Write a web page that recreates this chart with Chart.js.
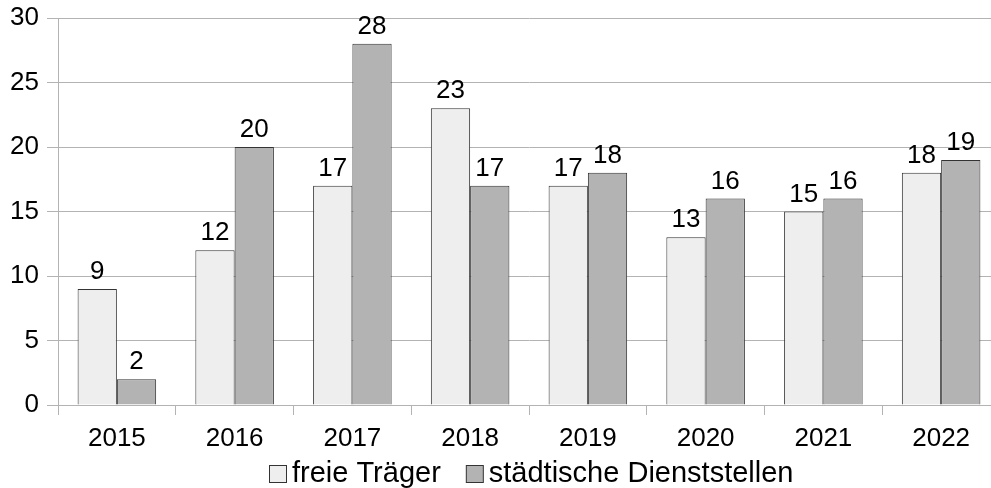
<!DOCTYPE html>
<html>
<head>
<meta charset="utf-8">
<script src="https://cdn.jsdelivr.net/npm/chart.js@4/dist/chart.umd.min.js"></script>
<style>
  html, body { margin: 0; padding: 0; background: #fff; overflow: hidden; }
  #wrap { position: absolute; left: 0; top: 0; width: 1010px; height: 488px; }
</style>
</head>
<body>
<div id="wrap"><canvas id="c"></canvas></div>
<script>
const years = ['2015', '2016', '2017', '2018', '2019', '2020', '2021', '2022'];
const freieTraeger = [9, 12, 17, 23, 17, 13, 15, 18];
const staedtischeDienststellen = [2, 20, 28, 17, 18, 16, 16, 19];
const yTicks = [0, 5, 10, 15, 20, 25, 30];

const FAMILY = '"Liberation Sans", Arial, sans-serif';
const GRID = '#b3b3b3';
const EDGE = '#333333';

// Writes each bar's value just above its top edge
const valueLabels = {
  id: 'valueLabels',
  afterDatasetsDraw(chart) {
    const ctx = chart.ctx;
    ctx.save();
    ctx.font = '26px ' + FAMILY;
    ctx.fillStyle = '#000';
    ctx.textAlign = 'center';
    ctx.textBaseline = 'alphabetic';
    chart.data.datasets.forEach((ds, i) => {
      chart.getDatasetMeta(i).data.forEach((bar, j) => {
        ctx.fillText(String(ds.data[j]), bar.x, bar.y - 10);
      });
    });
    ctx.restore();
  }
};

// Legend row below the axis: square swatch followed by the series name
const bottomLegend = {
  id: 'bottomLegend',
  afterDraw(chart) {
    const ctx = chart.ctx;
    const box = 17, gapText = 6, gapItem = 25;
    const baseline = 482;
    ctx.save();
    ctx.font = '29px ' + FAMILY;
    const items = chart.data.datasets.map(ds => ({
      text: ds.label,
      fill: ds.backgroundColor,
      w: ctx.measureText(ds.label).width
    }));
    let total = 0;
    items.forEach((it, k) => {
      total += box + gapText + it.w + (k ? gapItem : 0);
    });
    const area = chart.chartArea;
    let x = Math.round((area.left + area.right) / 2 + 2 - total / 2);
    items.forEach(it => {
      ctx.fillStyle = it.fill;
      ctx.fillRect(x + 0.5, baseline - box + 0.5, box, box);
      ctx.strokeStyle = EDGE;
      ctx.lineWidth = 1;
      ctx.strokeRect(x + 0.5, baseline - box + 0.5, box, box);
      x += box + gapText;
      ctx.fillStyle = '#000';
      ctx.textAlign = 'left';
      ctx.textBaseline = 'alphabetic';
      ctx.fillText(it.text, x, baseline);
      x += it.w + gapItem;
    });
    ctx.restore();
  }
};

new Chart(document.getElementById('c'), {
  type: 'bar',
  data: {
    labels: years,
    datasets: [
      {
        label: 'freie Träger',
        data: freieTraeger,
        backgroundColor: '#eeeeee',
        borderColor: EDGE,
        borderWidth: 1
      },
      {
        label: 'städtische Dienststellen',
        data: staedtischeDienststellen,
        backgroundColor: '#b3b3b3',
        borderColor: EDGE,
        borderWidth: 1
      }
    ]
  },
  options: {
    responsive: true,
    maintainAspectRatio: false,
    animation: false,
    layout: { padding: { top: 18, right: 10, left: 0, bottom: 0 } },
    datasets: { bar: { categoryPercentage: 0.667, barPercentage: 1.0 } },
    scales: {
      x: {
        grid: {
          display: true,
          drawOnChartArea: false,
          drawTicks: true,
          tickLength: 10,
          color: GRID,
          offset: true
        },
        border: { display: true, color: GRID },
        ticks: { color: '#000', font: { family: FAMILY, size: 26 }, padding: 8 },
        afterFit(scale) { scale.height = 83; }
      },
      y: {
        min: 0,
        max: 30,
        afterBuildTicks(scale) { scale.ticks = yTicks.map(v => ({ value: v })); },
        grid: { color: GRID, tickLength: 11, drawTicks: true },
        border: { display: true, color: GRID },
        ticks: { color: '#000', font: { family: FAMILY, size: 26 }, padding: 8 },
        afterFit(scale) {
          scale.width = 58;
          scale.paddingTop = 0;
          scale.paddingBottom = 0;
        }
      }
    },
    plugins: {
      legend: { display: false },
      tooltip: { enabled: false }
    }
  },
  plugins: [valueLabels, bottomLegend]
});
</script>
</body>
</html>
